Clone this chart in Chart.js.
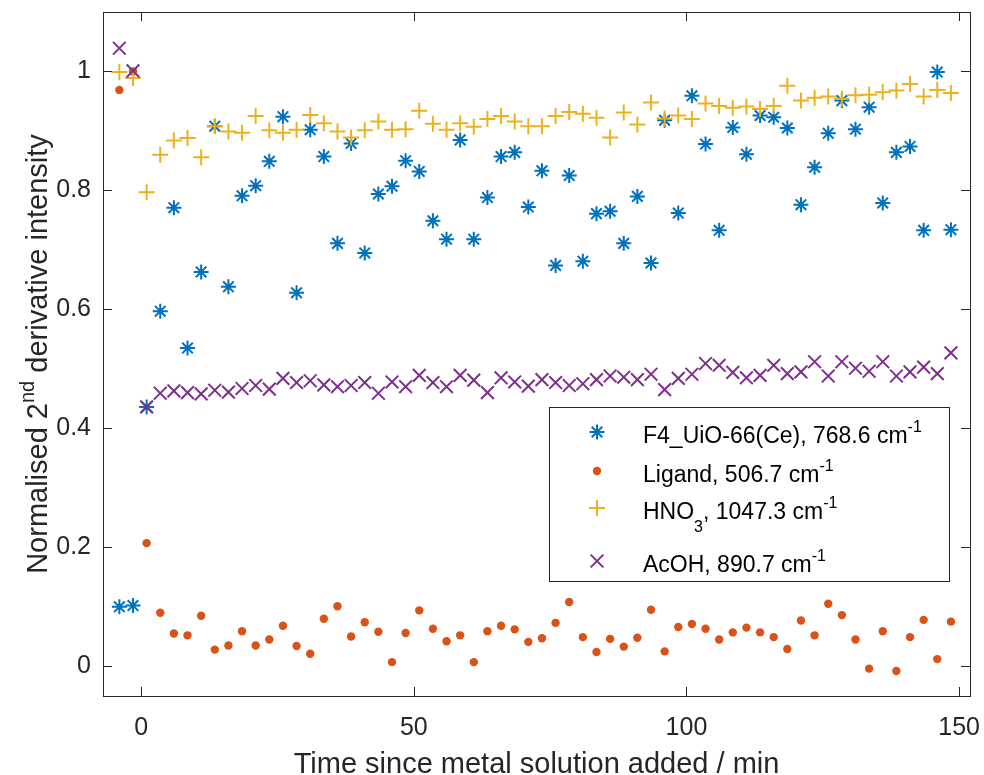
<!DOCTYPE html>
<html>
<head>
<meta charset="utf-8">
<title>Normalised 2nd derivative intensity</title>
<script src="https://cdn.jsdelivr.net/npm/chart.js@4.4.1/dist/chart.umd.min.js"></script>
<style>
  body { margin: 0; background: #fff; }
  canvas { display: block; }
</style>
</head>
<body>
<canvas id="chart" width="984" height="775"></canvas>
<script>
// time since metal solution added (min)
var time = [-4, -1.5, 1, 3.5, 6, 8.5, 11, 13.5, 16, 18.5,
            21, 23.5, 26, 28.5, 31, 33.5, 36, 38.5, 41, 43.5,
            46, 48.5, 51, 53.5, 56, 58.5, 61, 63.5, 66, 68.5,
            71, 73.5, 76, 78.5, 81, 83.5, 86, 88.5, 91, 93.5,
            96, 98.5, 101, 103.5, 106, 108.5, 111, 113.5, 116, 118.5,
            121, 123.5, 126, 128.5, 131, 133.5, 136, 138.5, 141, 143.5,
            146, 148.5];

// F4_UiO-66(Ce), 768.6 cm-1
var framework = [0.100, 0.102, 0.436, 0.597, 0.771, 0.535, 0.663, 0.908, 0.638, 0.791,
                 0.808, 0.849, 0.924, 0.628, 0.902, 0.857, 0.711, 0.879, 0.695, 0.794,
                 0.807, 0.850, 0.832, 0.749, 0.718, 0.885, 0.718, 0.788, 0.857, 0.864,
                 0.772, 0.833, 0.674, 0.825, 0.681, 0.761, 0.765, 0.711, 0.790, 0.678,
                 0.918, 0.762, 0.959, 0.878, 0.733, 0.906, 0.861, 0.926, 0.923, 0.905,
                 0.776, 0.839, 0.896, 0.951, 0.903, 0.940, 0.779, 0.864, 0.874, 0.733,
                 0.999, 0.734];

// Ligand, 506.7 cm-1
var ligand = [0.969, 1.000, 0.207, 0.090, 0.055, 0.052, 0.085, 0.028, 0.035, 0.059,
              0.035, 0.045, 0.068, 0.034, 0.021, 0.080, 0.101, 0.050, 0.074, 0.058,
              0.007, 0.056, 0.094, 0.063, 0.042, 0.052, 0.007, 0.059, 0.068, 0.062,
              0.041, 0.047, 0.073, 0.108, 0.049, 0.024, 0.046, 0.033, 0.048, 0.095,
              0.025, 0.066, 0.071, 0.063, 0.045, 0.057, 0.065, 0.057, 0.049, 0.029,
              0.077, 0.052, 0.105, 0.086, 0.045, -0.004, 0.059, -0.008, 0.049, 0.078,
              0.012, 0.075];

// HNO3, 1047.3 cm-1
var nitric = [0.999, 0.989, 0.797, 0.860, 0.884, 0.888, 0.856, 0.908, 0.899, 0.897,
              0.925, 0.901, 0.897, 0.902, 0.927, 0.913, 0.899, 0.889, 0.901, 0.916,
              0.902, 0.903, 0.934, 0.912, 0.902, 0.913, 0.907, 0.920, 0.925, 0.916,
              0.908, 0.908, 0.925, 0.932, 0.929, 0.922, 0.889, 0.931, 0.911, 0.948,
              0.921, 0.926, 0.920, 0.946, 0.942, 0.939, 0.941, 0.937, 0.942, 0.976,
              0.951, 0.956, 0.958, 0.954, 0.960, 0.961, 0.965, 0.968, 0.979, 0.958,
              0.969, 0.964];

// AcOH, 890.7 cm-1
var acetic = [1.039, 1.001, 0.436, 0.459, 0.463, 0.460, 0.458, 0.464, 0.461, 0.467,
              0.472, 0.466, 0.484, 0.477, 0.480, 0.473, 0.470, 0.472, 0.477, 0.459,
              0.478, 0.470, 0.489, 0.477, 0.470, 0.489, 0.481, 0.460, 0.485, 0.478,
              0.471, 0.482, 0.477, 0.472, 0.475, 0.482, 0.488, 0.486, 0.482, 0.491,
              0.465, 0.484, 0.491, 0.509, 0.506, 0.494, 0.485, 0.489, 0.506, 0.492,
              0.495, 0.512, 0.488, 0.512, 0.501, 0.496, 0.512, 0.488, 0.495, 0.503,
              0.492, 0.527];

var xTicks = [0, 50, 100, 150];
var yTicks = [0, 0.2, 0.4, 0.6, 0.8, 1];

var FONT = "'Liberation Sans', Arial, sans-serif";
var AXIS = '#262626';

var toPoints = (ys) => time.map((t, i) => ({x: t, y: ys[i]}));

// text with sub/superscripts, drawn piece by piece
var sup = (t, size, dy) => ({t: t, size: size, dy: dy});
var partsWidth = (ctx, parts, base) => {
    var w = 0;
    parts.forEach(p => {
        ctx.font = (p.size || base) + 'px ' + FONT;
        w += ctx.measureText(p.t).width;
    });
    return w;
};
var drawParts = (ctx, parts, x, y, base) => {
    parts.forEach(p => {
        ctx.font = (p.size || base) + 'px ' + FONT;
        ctx.fillText(p.t, x, y + (p.dy || 0));
        x += ctx.measureText(p.t).width;
    });
};

var series = [
    {label: 'F4_UiO-66(Ce), 768.6 cm-1', data: framework, color: '#0072BD', style: 'star', radius: 7.5, width: 2,
     text: [{t: 'F4_UiO-66(Ce), 768.6 cm'}, sup('-1', 16, -11)]},
    {label: 'Ligand, 506.7 cm-1', data: ligand, color: '#D95319', style: 'circle', radius: 4.2, width: 0,
     text: [{t: 'Ligand, 506.7 cm'}, sup('-1', 16, -11)]},
    {label: 'HNO3, 1047.3 cm-1', data: nitric, color: '#EDB120', style: 'cross', radius: 8, width: 2,
     text: [{t: 'HNO'}, sup('3', 16, 13), {t: ', 1047.3 cm'}, sup('-1', 16, -11)]},
    {label: 'AcOH, 890.7 cm-1', data: acetic, color: '#7E2F8E', style: 'crossRot', radius: 9, width: 2,
     text: [{t: 'AcOH, 890.7 cm'}, sup('-1', 16, -11)]}
];

var legendRows = [443, 482, 519, 572];

var frame = {
    id: 'frame',
    afterDatasetsDraw(chart) {
        var ctx = chart.ctx, a = chart.chartArea, sx = chart.scales.x, sy = chart.scales.y;
        ctx.save();
        ctx.strokeStyle = AXIS;
        ctx.lineWidth = 1;
        ctx.strokeRect(a.left + 0.5, a.top + 0.5, a.right - a.left, a.bottom - a.top);
        ctx.beginPath();
        xTicks.forEach(v => {
            var px = Math.round(sx.getPixelForValue(v)) + 0.5;
            ctx.moveTo(px, a.bottom); ctx.lineTo(px, a.bottom - 9);
            ctx.moveTo(px, a.top); ctx.lineTo(px, a.top + 9);
        });
        yTicks.forEach(v => {
            var py = Math.round(sy.getPixelForValue(v)) + 0.5;
            ctx.moveTo(a.left, py); ctx.lineTo(a.left + 9, py);
            ctx.moveTo(a.right, py); ctx.lineTo(a.right - 9, py);
        });
        ctx.stroke();
        ctx.restore();
    },
    afterDraw(chart) {
        var ctx = chart.ctx, a = chart.chartArea;
        ctx.save();
        ctx.fillStyle = AXIS;
        ctx.textBaseline = 'alphabetic';
        ctx.textAlign = 'left';

        // x title
        var xt = [{t: 'Time since metal solution added / min'}];
        var w = partsWidth(ctx, xt, 29);
        drawParts(ctx, xt, (a.left + a.right) / 2 - w / 2, 773, 29);

        // y title, rotated
        var yt = [{t: 'Normalised 2'}, sup('nd', 20, -13), {t: ' derivative intensity'}];
        w = partsWidth(ctx, yt, 29);
        ctx.save();
        ctx.translate(47, (a.top + a.bottom) / 2);
        ctx.rotate(-Math.PI / 2);
        drawParts(ctx, yt, -w / 2, 0, 29);
        ctx.restore();

        // legend
        ctx.fillStyle = '#ffffff';
        ctx.fillRect(549, 407, 400, 174);
        ctx.strokeStyle = AXIS;
        ctx.lineWidth = 1;
        ctx.strokeRect(549.5, 407.5, 400, 174);
        series.forEach((s, i) => {
            var base = legendRows[i];
            ctx.strokeStyle = s.color;
            ctx.fillStyle = s.color;
            ctx.lineWidth = s.width;
            Chart.helpers.drawPoint(ctx, {pointStyle: s.style, radius: s.radius, rotation: 0, borderWidth: s.width}, 597, base - 11);
            ctx.fillStyle = '#000000';
            drawParts(ctx, s.text, 643, base, 23);
        });
        ctx.restore();
    }
};

new Chart(document.getElementById('chart'), {
    type: 'scatter',
    data: {
        datasets: series.map((s, i) => ({
            label: s.label,
            data: toPoints(s.data),
            pointStyle: s.style,
            pointRadius: s.radius,
            pointHoverRadius: s.radius,
            pointBorderWidth: s.width,
            pointBorderColor: s.color,
            pointBackgroundColor: s.color,
            showLine: false,
            order: series.length - i
        }))
    },
    options: {
        responsive: false,
        animation: false,
        layout: {padding: {left: 0, top: 12, right: 14, bottom: 0}},
        plugins: {legend: {display: false}, tooltip: {enabled: false}},
        scales: {
            x: {
                type: 'linear',
                min: -7,
                max: 152,
                grid: {display: false, drawTicks: false},
                border: {display: false},
                afterBuildTicks: s => { s.ticks = xTicks.map(v => ({value: v})); },
                afterFit: s => { s.height = 79; s.paddingLeft = 0; s.paddingRight = 0; },
                ticks: {font: {family: FONT, size: 25}, color: AXIS, padding: 17, maxRotation: 0, autoSkip: false}
            },
            y: {
                min: -0.05,
                max: 1.1,
                grid: {display: false, drawTicks: false},
                border: {display: false},
                afterBuildTicks: s => { s.ticks = yTicks.map(v => ({value: v})); },
                afterFit: s => { s.width = 103; s.paddingTop = 0; s.paddingBottom = 0; },
                ticks: {font: {family: FONT, size: 25}, color: AXIS, padding: 12, autoSkip: false,
                        callback: v => String(+v.toFixed(1))}
            }
        }
    },
    plugins: [frame]
});
</script>
</body>
</html>
